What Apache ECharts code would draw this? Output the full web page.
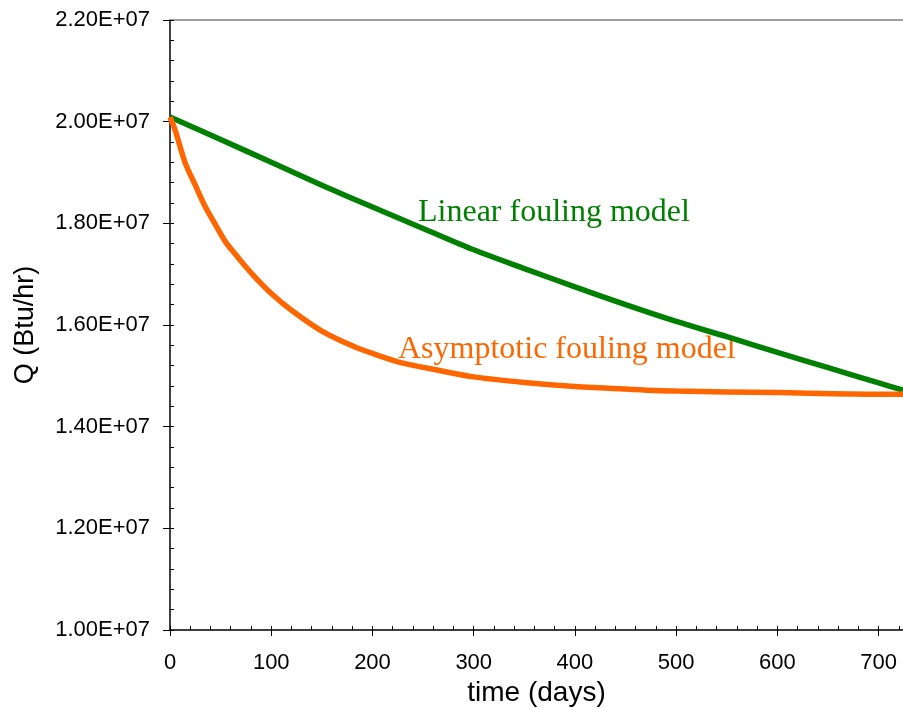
<!DOCTYPE html>
<html>
<head>
<meta charset="utf-8">
<script src="https://cdn.jsdelivr.net/npm/echarts@6/dist/echarts.min.js"></script>
<style>
html,body{margin:0;padding:0;background:#fff;}
#chart{width:903px;height:708px;}
</style>
</head>
<body>
<div id="chart"></div>
<script>
// Data (values in Btu/hr)
var linearDays = [0, 50, 100, 150, 200, 250, 300, 350, 400, 450, 500, 550, 600, 650, 700, 724];
var linearQ = [2.009e7, 1.965e7, 1.920e7, 1.875e7, 1.832e7, 1.790e7, 1.748e7, 1.711e7, 1.675e7, 1.640e7, 1.607e7, 1.577e7, 1.546e7, 1.516e7, 1.486e7, 1.472e7];

var asymDays = [0, 5, 15, 25, 35, 45, 55, 65, 75, 85, 100, 120, 150, 180, 200, 230, 265, 300, 350, 400, 450, 500, 600, 700, 724];
var asymQ = [2.009e7, 1.984e7, 1.919e7, 1.875e7, 1.832e7, 1.797e7, 1.763e7, 1.738e7, 1.714e7, 1.692e7, 1.662e7, 1.629e7, 1.588e7, 1.559e7, 1.544e7, 1.525e7, 1.511e7, 1.498e7, 1.487e7, 1.479e7, 1.474e7, 1.470e7, 1.467e7, 1.464e7, 1.464e7];

var xTicks = [0, 100, 200, 300, 400, 500, 600, 700];
var yTickLabels = ['1.00E+07', '1.20E+07', '1.40E+07', '1.60E+07', '1.80E+07', '2.00E+07', '2.20E+07'];

var linearLabel = 'Linear fouling model';
var asymLabel = 'Asymptotic fouling model';

function zip(a, b) { return a.map(function (v, i) { return [v, b[i]]; }); }

var chart = echarts.init(document.getElementById('chart'), null, { renderer: 'canvas' });
var axisFont = 'Liberation Sans, Arial, sans-serif';
var option = {
  animation: false,
  backgroundColor: '#ffffff',
  grid: { left: 170, top: 20, width: 733, height: 610, containLabel: false, outerBoundsMode: 'none' },
  xAxis: [
    {
      type: 'value', position: 'bottom', min: 0, max: 724, interval: 100,
      name: 'time (days)', nameLocation: 'middle', nameGap: 43,
      nameTextStyle: { fontFamily: axisFont, fontSize: 28, color: '#000' },
      axisLine: { show: true, lineStyle: { color: '#000', width: 1.5 } },
      axisTick: { show: true, inside: false, length: 6, lineStyle: { color: '#000', width: 1 } },
      axisLabel: { show: true, margin: 22, fontFamily: axisFont, fontSize: 22, color: '#000',
        formatter: function (v) { return xTicks.indexOf(v) >= 0 ? String(v) : ''; } },
      splitLine: { show: false }
    },
    {
      type: 'value', position: 'bottom', min: 0, max: 724, interval: 20,
      axisLine: { show: false },
      axisTick: { show: true, inside: true, length: 4, lineStyle: { color: '#000', width: 1 } },
      axisLabel: { show: false },
      splitLine: { show: false }
    },
    {
      type: 'value', position: 'top', min: 0, max: 724,
      axisLine: { show: true, lineStyle: { color: '#808080', width: 1.5 } },
      axisTick: { show: false },
      axisLabel: { show: false },
      splitLine: { show: false }
    }
  ],
  yAxis: [
    {
      type: 'value', position: 'left', min: 1.0e7, max: 2.2e7, interval: 2.0e6,
      name: 'Q (Btu/hr)', nameLocation: 'middle', nameGap: 131, nameRotate: 90,
      nameTextStyle: { fontFamily: axisFont, fontSize: 27, color: '#000' },
      axisLine: { show: true, lineStyle: { color: '#000', width: 1.5 } },
      axisTick: { show: true, inside: false, length: 7, lineStyle: { color: '#000', width: 1 } },
      axisLabel: { show: true, margin: 20, fontFamily: axisFont, fontSize: 22, color: '#000',
        formatter: function (v) { var i = Math.round((v - 1.0e7) / 2.0e6); return yTickLabels[i] || ''; } },
      splitLine: { show: false }
    },
    {
      type: 'value', position: 'left', min: 1.0e7, max: 2.2e7, interval: 4.0e5,
      axisLine: { show: false },
      axisTick: { show: true, inside: true, length: 4, lineStyle: { color: '#000', width: 1 } },
      axisLabel: { show: false },
      splitLine: { show: false }
    }
  ],
  series: [
    {
      name: linearLabel, type: 'line', xAxisIndex: 0, yAxisIndex: 0,
      data: zip(linearDays, linearQ), showSymbol: false, smooth: 0.3,
      lineStyle: { color: '#008000', width: 5.5 }, z: 3
    },
    {
      name: asymLabel, type: 'line', xAxisIndex: 0, yAxisIndex: 0,
      data: zip(asymDays, asymQ), showSymbol: false, smooth: 0.3,
      lineStyle: { color: '#FF6600', width: 5.5 }, z: 4
    }
  ],
  graphic: [
    { type: 'text', left: 418, top: 197, style: { text: linearLabel, fill: '#008000', font: '32px "Liberation Serif", "Times New Roman", serif' } },
    { type: 'text', left: 398, top: 334, style: { text: asymLabel, fill: '#FF6600', font: '32px "Liberation Serif", "Times New Roman", serif' } }
  ]
};
chart.setOption(option);
</script>
</body>
</html>
